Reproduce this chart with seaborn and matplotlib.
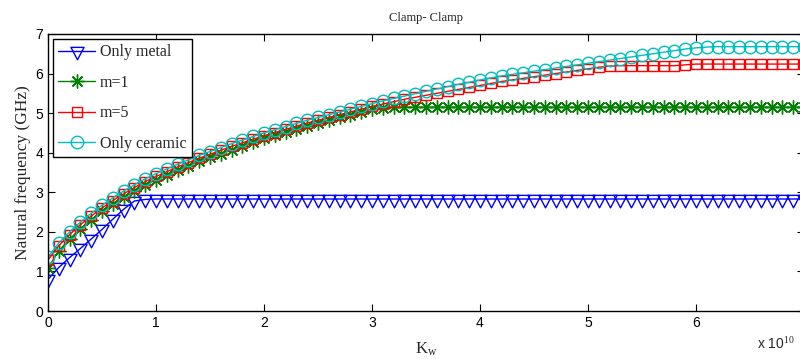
import numpy as np
import pandas as pd
import seaborn as sns
import matplotlib.pyplot as plt
from matplotlib.path import Path

# Kw values (x 10^10)
kw = [round(0.1 * i, 1) for i in range(71)]

only_metal = [0.80, 1.10, 1.35, 1.58, 1.82, 2.06, 2.32, 2.57, 2.78, 2.82,
              2.83, 2.83, 2.83, 2.83, 2.83, 2.83, 2.83, 2.83, 2.83, 2.83,
              2.83, 2.83, 2.83, 2.83, 2.83, 2.83, 2.83, 2.83, 2.83, 2.83,
              2.83, 2.83, 2.83, 2.83, 2.83, 2.83, 2.83, 2.83, 2.83, 2.83,
              2.83, 2.83, 2.83, 2.83, 2.83, 2.83, 2.83, 2.83, 2.83, 2.83,
              2.83, 2.83, 2.83, 2.83, 2.83, 2.83, 2.83, 2.83, 2.83, 2.83,
              2.83, 2.83, 2.83, 2.83, 2.83, 2.83, 2.83, 2.83, 2.83, 2.83,
              2.83]

m1 = [1.09, 1.52, 1.82, 2.08, 2.31, 2.52, 2.71, 2.88, 3.04, 3.19,
      3.32, 3.44, 3.56, 3.67, 3.78, 3.88, 3.98, 4.08, 4.17, 4.26,
      4.36, 4.44, 4.52, 4.60, 4.68, 4.75, 4.82, 4.89, 4.96, 5.03,
      5.10, 5.14, 5.15, 5.15, 5.15, 5.15, 5.15, 5.15, 5.15, 5.15,
      5.15, 5.15, 5.15, 5.15, 5.15, 5.15, 5.15, 5.15, 5.15, 5.15,
      5.15, 5.15, 5.15, 5.15, 5.15, 5.15, 5.15, 5.15, 5.15, 5.15,
      5.15, 5.15, 5.15, 5.15, 5.15, 5.15, 5.15, 5.15, 5.15, 5.15,
      5.15]

m5 = [1.29, 1.65, 1.93, 2.18, 2.40, 2.60, 2.79, 2.96, 3.12, 3.27,
      3.40, 3.52, 3.64, 3.75, 3.86, 3.96, 4.06, 4.16, 4.25, 4.34,
      4.43, 4.51, 4.59, 4.67, 4.75, 4.82, 4.89, 4.96, 5.03, 5.10,
      5.17, 5.23, 5.29, 5.35, 5.40, 5.45, 5.50, 5.55, 5.60, 5.65,
      5.70, 5.75, 5.80, 5.84, 5.88, 5.92, 5.96, 6.00, 6.04, 6.08,
      6.12, 6.16, 6.19, 6.20, 6.20, 6.20, 6.20, 6.20, 6.20, 6.22,
      6.24, 6.24, 6.24, 6.24, 6.24, 6.24, 6.24, 6.24, 6.24, 6.24,
      6.24]

only_ceramic = [1.36, 1.72, 2.00, 2.25, 2.47, 2.67, 2.86, 3.03, 3.19, 3.34,
                3.47, 3.59, 3.71, 3.82, 3.93, 4.03, 4.13, 4.23, 4.32, 4.41,
                4.50, 4.58, 4.66, 4.74, 4.82, 4.89, 4.96, 5.03, 5.10, 5.17,
                5.24, 5.31, 5.37, 5.43, 5.49, 5.55, 5.61, 5.67, 5.73, 5.78,
                5.84, 5.89, 5.94, 5.98, 6.02, 6.06, 6.10, 6.14, 6.18, 6.22,
                6.26, 6.30, 6.34, 6.38, 6.42, 6.46, 6.50, 6.54, 6.58, 6.62,
                6.65, 6.67, 6.68, 6.68, 6.68, 6.68, 6.68, 6.68, 6.68, 6.68,
                6.68]

series_names = ['Only metal', 'm=1', 'm=5', 'Only ceramic']
series_values = [only_metal, m1, m5, only_ceramic]

sns.set_style('ticks')
plt.rcParams['font.family'] = ['Liberation Sans', 'DejaVu Sans']
plt.rcParams['mathtext.fontset'] = 'custom'
plt.rcParams['mathtext.rm'] = 'Liberation Serif'
plt.rcParams['mathtext.it'] = 'Liberation Serif'

# triangle like matlab's, data point near the centroid
tri = Path([(-1.0, 0.63), (1.0, 0.63), (0.0, -1.27), (-1.0, 0.63)],
           [Path.MOVETO, Path.LINETO, Path.LINETO, Path.CLOSEPOLY])

styles = [
    dict(color=(0, 0, 1), marker=tri, markersize=12),
    dict(color=(0, 0.5, 0), marker=(8, 2, 0), markersize=10),
    dict(color=(1, 0, 0), marker='s', markersize=7.5),
    dict(color=(0, 0.75, 0.75), marker='o', markersize=9),
]

fig = plt.figure(figsize=(8, 3.59), dpi=100)
ax = fig.add_axes([0.06, 0.1337, 0.945, 0.7716])

for name, vals, st in zip(series_names, series_values, styles):
    df = pd.DataFrame({'Kw': kw, 'freq': vals})
    sns.lineplot(data=df, x='Kw', y='freq', ax=ax, label=name,
                 color=st['color'], marker=st['marker'],
                 markersize=st['markersize'], mfc='none',
                 mec=st['color'], mew=1.0, linewidth=1.0)

ax.set_xlim(0, 7)
ax.set_ylim(0, 7)
ax.set_xticks(range(0, 7))
ax.set_yticks(range(0, 8))
ax.tick_params(direction='in', top=True, right=True, length=5,
               labelsize=10, width=0.8, colors='black')
for s in ax.spines.values():
    s.set_visible(True)
    s.set_linewidth(1.0)
    s.set_color('black')

serif = ['Liberation Serif', 'DejaVu Serif']
ax.set_title('Clamp- Clamp', fontsize=9, family=serif, pad=9)
ax.set_ylabel('Natural frequency (GHz)', fontsize=12.5, family=serif, labelpad=3)
ax.set_xlabel(r'K$_{\mathrm{w}}$', fontsize=12, family=serif, labelpad=8)
# exponent note, kept inside the figure
fig.text(0.993, 0.02, r'x 10$^{10}$', fontsize=10, ha='right', va='bottom')

leg = ax.legend(loc='upper left', frameon=True, fancybox=False,
                edgecolor='black', handlelength=2.3, borderaxespad=0.3,
                labelspacing=0.9, handletextpad=0.3, borderpad=0.35,
                prop={'family': serif, 'size': 11.5})
leg.get_frame().set_linewidth(1.0)
leg.get_frame().set_alpha(1)

fig.savefig('out.png', dpi=100)
